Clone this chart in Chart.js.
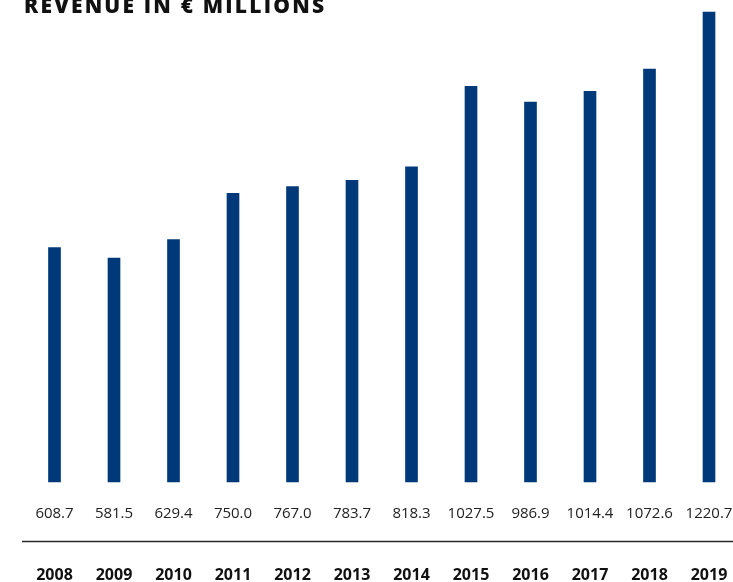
<!DOCTYPE html>
<html>
<head>
<meta charset="utf-8">
<script src="https://cdn.jsdelivr.net/npm/chart.js@4"></script>
<style>
html,body{margin:0;padding:0;background:#fff;}
#wrap{position:relative;width:733px;height:582px;}
</style>
</head>
<body>
<div id="wrap"><canvas id="c" width="733" height="582"></canvas></div>
<script>
const title = "REVENUE IN € MILLIONS";
const years = ["2008","2009","2010","2011","2012","2013","2014","2015","2016","2017","2018","2019"];
const revenue = [608.7, 581.5, 629.4, 750.0, 767.0, 783.7, 818.3, 1027.5, 986.9, 1014.4, 1072.6, 1220.7];
const valueLabels = ["608.7","581.5","629.4","750.0","767.0","783.7","818.3","1027.5","986.9","1014.4","1072.6","1220.7"];

const labelsPlugin = {
  id: 'customLabels',
  afterDraw(chart) {
    const ctx = chart.ctx;
    const xs = chart.scales.x;
    ctx.save();
    // title
    ctx.fillStyle = '#111';
    ctx.font = '800 21px "Open Sans"';
    ctx.textAlign = 'left';
    ctx.textBaseline = 'alphabetic';
    if ('letterSpacing' in ctx) ctx.letterSpacing = '2.2px';
    ctx.fillText(title, 24, 13);
    if ('letterSpacing' in ctx) ctx.letterSpacing = '0px';
    // values
    ctx.textAlign = 'center';
    ctx.fillStyle = '#222';
    ctx.font = '15px "Open Sans"';
    valueLabels.forEach((v, i) => {
      ctx.fillText(v, xs.getPixelForValue(i), 518);
    });
    // separator line
    ctx.strokeStyle = '#2a2a2a';
    ctx.lineWidth = 1.6;
    ctx.beginPath();
    ctx.moveTo(22, 541.5);
    ctx.lineTo(733, 541.5);
    ctx.stroke();
    // years
    ctx.fillStyle = '#111';
    ctx.font = 'bold 16px "Open Sans"';
    years.forEach((y, i) => {
      ctx.fillText(y, xs.getPixelForValue(i), 580);
    });
    ctx.restore();
  }
};

new Chart(document.getElementById('c'), {
  type: 'bar',
  data: {
    labels: years,
    datasets: [{
      data: revenue,
      backgroundColor: '#00397a',
      borderWidth: 0,
      barThickness: 12,
      clip: false
    }]
  },
  options: {
    responsive: false,
    animation: false,
    layout: { padding: { left: 54.5, right: 24, top: 12, bottom: 100 } },
    plugins: { legend: { display: false }, tooltip: { enabled: false }, title: { display: false } },
    scales: {
      x: { display: false, offset: false, grid: { display: false } },
      y: { display: false, min: 0, max: 1220.7, grid: { display: false } }
    }
  },
  plugins: [labelsPlugin]
});
</script>
</body>
</html>
